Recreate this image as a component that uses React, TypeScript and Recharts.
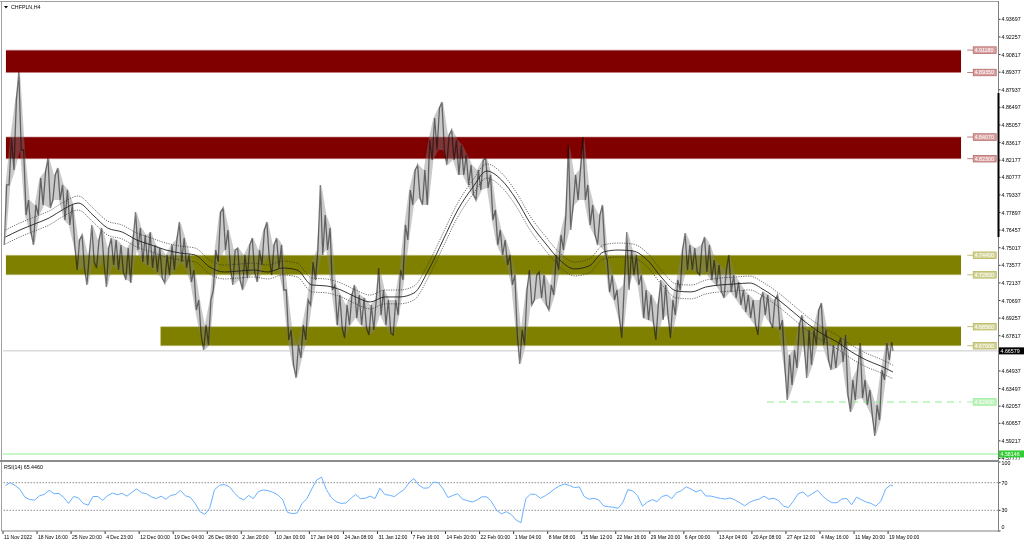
import React from 'react';
import { ComposedChart, Line, Area, XAxis, YAxis, ReferenceLine, ReferenceDot } from 'recharts';

// ---------- data ----------
const SYMBOL = 'CHFPLN,H4';
const RSI_TITLE = 'RSI(14) 65.4460';

// price samples: one high / low pair per step (6 H4 bars)
const STEP_HIGH = [
  4.8015, 4.8399, 4.8710, 4.8939, 4.8301, 4.7892, 4.7851, 4.8072, 4.8121, 4.8236,
  4.8097, 4.8154, 4.8015, 4.7974, 4.7851, 4.7565, 4.7606, 4.7442, 4.7688, 4.7565,
  4.7663, 4.7499, 4.7581, 4.7565, 4.7524, 4.7499, 4.7565, 4.7794, 4.7663, 4.7606,
  4.7630, 4.7524, 4.7499, 4.7442, 4.7524, 4.7565, 4.7712, 4.7581, 4.7442, 4.7319,
  4.7074, 4.6870, 4.7074, 4.7483, 4.7794, 4.7827, 4.7647, 4.7483, 4.7499, 4.7442,
  4.7524, 4.7581, 4.7483, 4.7647, 4.7712, 4.7524, 4.7581, 4.7524, 4.7156, 4.6829,
  4.6706, 4.6870, 4.7074, 4.7385, 4.7483, 4.8015, 4.7769, 4.7663, 4.7197, 4.7115,
  4.7033, 4.7115, 4.7197, 4.7115, 4.7090, 4.7033, 4.7074, 4.7336, 4.7156, 4.7074,
  4.7074, 4.7319, 4.7688, 4.7974, 4.8137, 4.8178, 4.8137, 4.8383, 4.8563, 4.8645,
  4.8694, 4.8424, 4.8465, 4.8383, 4.8342, 4.8260, 4.8178, 4.8137, 4.8219, 4.8236,
  4.8097, 4.7810, 4.7647, 4.7565, 4.7442, 4.7278, 4.6829, 4.7156, 4.7319, 4.7278,
  4.7303, 4.7278, 4.7197, 4.7442, 4.7606, 4.7769, 4.8342, 4.8097, 4.8137, 4.8407,
  4.8015, 4.7851, 4.7769, 4.7851, 4.7401, 4.7278, 4.7156, 4.7197, 4.7630, 4.7483,
  4.7442, 4.7278, 4.7156, 4.7115, 4.7033, 4.7238, 4.7197, 4.7074, 4.7238, 4.7483,
  4.7622, 4.7524, 4.7499, 4.7524, 4.7589, 4.7524, 4.7401, 4.7360, 4.7319, 4.7442,
  4.7278, 4.7221, 4.7156, 4.7115, 4.7074, 4.7074, 4.7140, 4.7115, 4.7074, 4.7115,
  4.6910, 4.6624, 4.6665, 4.6870, 4.6951, 4.6829, 4.6829, 4.6992, 4.7050, 4.6829,
  4.6706, 4.6706, 4.6763, 4.6788, 4.6420, 4.6501, 4.6722, 4.6420, 4.6338, 4.6215,
  4.6501, 4.6722, 4.6730,
];
const STEP_LOW = [
  4.7524, 4.8015, 4.8137, 4.8301, 4.7769, 4.7630, 4.7524, 4.7769, 4.7851, 4.7827,
  4.7892, 4.7892, 4.7728, 4.7688, 4.7524, 4.7319, 4.7336, 4.7197, 4.7385, 4.7336,
  4.7385, 4.7180, 4.7360, 4.7319, 4.7303, 4.7238, 4.7213, 4.7483, 4.7385, 4.7360,
  4.7336, 4.7303, 4.7254, 4.7213, 4.7278, 4.7319, 4.7385, 4.7336, 4.7221, 4.6992,
  4.6788, 4.6665, 4.6706, 4.7156, 4.7385, 4.7483, 4.7336, 4.7197, 4.7238, 4.7156,
  4.7254, 4.7303, 4.7221, 4.7360, 4.7418, 4.7278, 4.7336, 4.7156, 4.6747, 4.6542,
  4.6436, 4.6600, 4.6747, 4.7033, 4.7238, 4.7442, 4.7483, 4.7156, 4.6870, 4.6845,
  4.6763, 4.6870, 4.6927, 4.6870, 4.6845, 4.6788, 4.6829, 4.6951, 4.6870, 4.6804,
  4.6788, 4.6951, 4.7238, 4.7565, 4.7851, 4.7908, 4.7851, 4.7851, 4.8219, 4.8301,
  4.8301, 4.8178, 4.8219, 4.8097, 4.8097, 4.8015, 4.7933, 4.7892, 4.7974, 4.7990,
  4.7728, 4.7524, 4.7442, 4.7360, 4.7197, 4.6788, 4.6550, 4.6706, 4.7033, 4.7074,
  4.7090, 4.7033, 4.6992, 4.7115, 4.7319, 4.7483, 4.7647, 4.7851, 4.7892, 4.7892,
  4.7688, 4.7606, 4.7524, 4.7483, 4.7140, 4.7074, 4.6927, 4.6763, 4.7156, 4.7278,
  4.7197, 4.6927, 4.6910, 4.6894, 4.6747, 4.6910, 4.6951, 4.6763, 4.6951, 4.7156,
  4.7319, 4.7319, 4.7303, 4.7278, 4.7303, 4.7238, 4.7197, 4.7140, 4.7090, 4.7140,
  4.7090, 4.7033, 4.6976, 4.6927, 4.6870, 4.6788, 4.6951, 4.6894, 4.6845, 4.6829,
  4.6542, 4.6256, 4.6379, 4.6518, 4.6706, 4.6436, 4.6542, 4.6706, 4.6706, 4.6583,
  4.6501, 4.6518, 4.6567, 4.6297, 4.6158, 4.6256, 4.6272, 4.6215, 4.6133, 4.5962,
  4.6092, 4.6420, 4.6583,
];
const LAST_CLOSE = 4.66579;

// moving average sampled every 3 steps (last value = last bar)
const MA_EVERY = 3;
const MA_VALUES = [
  4.7589, 4.7647, 4.7696, 4.7745, 4.7818, 4.7867, 4.7769, 4.7663, 4.7630, 4.7565,
  4.7524, 4.7483, 4.7458, 4.7442, 4.7344, 4.7303, 4.7311, 4.7319, 4.7303, 4.7336,
  4.7319, 4.7197, 4.7189, 4.7156, 4.7099, 4.7058, 4.7099, 4.7099, 4.7131, 4.7319,
  4.7565, 4.7810, 4.7990, 4.8129, 4.8056, 4.7900, 4.7696, 4.7540, 4.7401, 4.7328,
  4.7352, 4.7467, 4.7483, 4.7475, 4.7401, 4.7254, 4.7148, 4.7140, 4.7180, 4.7197,
  4.7205, 4.7213, 4.7156, 4.7074, 4.6976, 4.6878, 4.6796, 4.6731, 4.6649, 4.6583,
  4.6534, 4.6485,
];
const ENVELOPE_DEVIATION = 0.0012;

// RSI(14), one value per step
const RSI_VALUES = [
  66, 70, 66, 60, 49, 45.5, 44.8, 51, 53, 59,
  54, 54.5, 48.5, 40, 50, 48, 40, 37.5, 50, 50,
  44.5, 51, 55, 52.5, 54.5, 50.5, 56, 61, 55.5, 54,
  49.5, 47, 50.5, 46, 51.5, 53, 59, 51, 49, 40,
  28, 24, 33, 60, 66, 67.5, 64.5, 56, 48.5, 45,
  51.5, 47, 57, 59.5, 58.5, 56, 52.5, 45.5, 27, 25.2,
  26, 40, 47, 61, 74, 78, 60, 48.5, 42.5, 40,
  40.5, 47, 53, 47, 47.5, 50.5, 47, 62, 53, 51.7,
  49.8, 55.5, 60, 70, 76, 66.5, 62, 62.5, 71, 70,
  61, 48.5, 51.5, 54, 46, 44, 42, 45, 49.5, 49.5,
  42, 30, 25, 28, 24, 16, 12, 47, 53.5, 53,
  47.5, 51, 56, 61.5, 65.7, 68, 66, 62.8, 64, 50,
  46, 47.5, 45, 36.3, 35.2, 34.4, 33, 42, 60, 58,
  51, 36, 42, 45.5, 42.5, 50, 52, 47, 55.5, 58.5,
  64, 60.8, 56.5, 59.5, 50.7, 50.7, 49, 47.3, 46.3, 48,
  45, 41, 36.5, 41.5, 44.5, 46.3, 50.5, 46, 47.5, 44,
  36, 34, 43, 54, 56.5, 50, 54.5, 59, 51, 45,
  41, 41, 46.5, 47, 38, 49, 45.5, 42, 40, 36,
  43, 61, 66.5, 65.446,
];
const RSI_LEVELS = [70, 30];
const RSI_TICKS = [0, 30, 70, 100];

// supply / demand zones (prices) and their start step
const ZONE_TOP = [4.9118, 4.8407, 4.7440, 4.6856];
const ZONE_BOTTOM = [4.8935, 4.8230, 4.7280, 4.6700];
const ZONE_START = [0.6, 0.6, 0.6, 32.4];
const ZONE_END = 197;
const SUPPORT_LEVEL = 4.6240;
const SUPPORT_START = 157.1;
const LOW_LEVEL = 4.58146;

// axis labels
const PRICE_TICK_LABELS = [
  '4.93697', '4.92257', '4.90817', '4.89377', '4.87937', '4.86497', '4.85057', '4.83617',
  '4.82177', '4.80777', '4.79337', '4.77897', '4.76457', '4.75017', '4.73577', '4.72137',
  '4.70697', '4.69257', '4.67817', '4.64937', '4.63497', '4.62057', '4.60657', '4.59217', '4.57777',
];
const TIME_LABELS = [
  '11 Nov 2022', '18 Nov 16:00', '25 Nov 20:00', '4 Dec 23:00', '12 Dec 00:00', '19 Dec 04:00',
  '26 Dec 08:00', '2 Jan 20:00', '10 Jan 00:00', '17 Jan 04:00', '24 Jan 08:00', '31 Jan 12:00',
  '7 Feb 16:00', '14 Feb 20:00', '22 Feb 00:00', '1 Mar 04:00', '8 Mar 08:00', '15 Mar 12:00',
  '22 Mar 16:00', '29 Mar 20:00', '6 Apr 00:00', '13 Apr 04:00', '20 Apr 08:00', '27 Apr 12:00',
  '4 May 16:00', '11 May 20:00', '19 May 00:00',
];
const TIME_LABEL_EVERY = 7;

// ---------- derived tables ----------
const X_MAX = 204.6;
const P_MIN = 4.57734;
const P_MAX = 4.95035;
const LAST_T = STEP_HIGH.length;
const LABEL_T = 199.5;

const priceData: { t: number; v: number }[] = [];
STEP_HIGH.forEach((h, i) => {
  const l = STEP_LOW[i];
  const nextMid = i + 1 < STEP_HIGH.length ? (STEP_HIGH[i + 1] + STEP_LOW[i + 1]) / 2 : LAST_CLOSE;
  const up = nextMid > (h + l) / 2;
  priceData.push({ t: i + 0.25, v: up ? l : h });
  priceData.push({ t: i + 0.75, v: up ? h : l });
});
priceData.push({ t: LAST_T, v: LAST_CLOSE });

const rangeData = STEP_HIGH.map((h, i) => ({ t: i + 0.5, v: [STEP_LOW[i], h] }));

const maData = MA_VALUES.map((v, k) => ({ t: Math.min(k * MA_EVERY + 0.5, LAST_T), v }));
const envUpper = maData.map((d) => ({ t: d.t, v: d.v * (1 + ENVELOPE_DEVIATION) }));
const envLower = maData.map((d) => ({ t: d.t, v: d.v * (1 - ENVELOPE_DEVIATION) }));
const rsiData = RSI_VALUES.map((v, i) => ({ t: Math.min(i + 0.5, LAST_T), v }));

const zoneData = ZONE_TOP.map((top, i) => [
  { t: ZONE_START[i], v: [ZONE_BOTTOM[i], top] },
  { t: ZONE_END, v: [ZONE_BOTTOM[i], top] },
]);
const ZONE_FILL = ['#800000', '#800000', '#808000', '#808000'];
const ZONE_EDGE = ['#c08080', '#c08080', '#c0c080', '#c0c080'];

const priceTicks = [...PRICE_TICK_LABELS.map(Number), LAST_CLOSE, LOW_LEVEL];
const timeTicks = TIME_LABELS.map((_, i) => i * TIME_LABEL_EVERY);

// ---------- rendering ----------
const FONT = '"Liberation Sans", Arial, sans-serif';
const FS = 5.3;
const FS_TIME = 5;

function PriceTick(props: any) {
  const { x, y, payload } = props;
  const v = payload.value as number;
  if (Math.abs(v - LAST_CLOSE) < 1e-9 || Math.abs(v - LOW_LEVEL) < 1e-9) {
    const black = Math.abs(v - LAST_CLOSE) < 1e-9;
    return (
      <g>
        <rect x={x + 1} y={y - 3.5} width={25} height={7} fill={black ? '#000000' : '#32cd32'} />
        <text x={x + 2.5} y={y + 2} fontSize={FS} fontFamily={FONT} fill="#ffffff">
          {v.toFixed(5)}
        </text>
      </g>
    );
  }
  const label = PRICE_TICK_LABELS.find((s) => Number(s) === v) || v.toFixed(5);
  return (
    <g>
      <line x1={x} x2={x + 2.5} y1={y} y2={y} stroke="#000" strokeWidth={0.8} />
      <text x={x + 3.5} y={y + 2} fontSize={FS} fontFamily={FONT} fill="#000">
        {label}
      </text>
    </g>
  );
}

function RsiTick(props: any) {
  const { x, y, payload } = props;
  const v = payload.value as number;
  const dy = v === 100 ? 3 : v === 0 ? -2 : 2;
  return (
    <g>
      <line x1={x} x2={x + 2.5} y1={y} y2={y} stroke="#000" strokeWidth={0.8} />
      <text x={x + 3.5} y={y + dy} fontSize={FS} fontFamily={FONT} fill="#000">
        {String(v)}
      </text>
    </g>
  );
}

function TimeTick(props: any) {
  const { x, y, index } = props;
  return (
    <g>
      <line x1={x} x2={x} y1={y} y2={y + 3} stroke="#000" strokeWidth={0.8} />
      <text x={x + 1} y={y + 8} fontSize={FS_TIME} fontFamily={FONT} fill="#000">
        {TIME_LABELS[index] ?? ''}
      </text>
    </g>
  );
}

function LevelBox(props: any) {
  const { cx, cy, text, stroke, fill } = props;
  if (cx == null || cy == null) return null;
  return (
    <g>
      <line x1={cx - 6} x2={cx} y1={cy} y2={cy} stroke={stroke} strokeWidth={0.8} />
      <rect x={cx} y={cy - 3.3} width={23} height={6.6} fill={fill} stroke={stroke} strokeWidth={0.7} />
      <text x={cx + 1.5} y={cy + 2} fontSize={FS} fontFamily={FONT} fill="#ffffff">
        {text}
      </text>
    </g>
  );
}

const levelBoxes: { p: number; stroke: string; fill: string }[] = [];
ZONE_TOP.forEach((top, i) => {
  const stroke = i < 2 ? '#b06060' : '#b0b050';
  const fill = i < 2 ? '#d8a0a0' : '#d4d49a';
  levelBoxes.push({ p: top, stroke, fill });
  levelBoxes.push({ p: ZONE_BOTTOM[i], stroke, fill });
});
levelBoxes.push({ p: SUPPORT_LEVEL, stroke: '#90ee90', fill: '#bdf2bd' });

export default function App() {
  return (
    <div style={{ position: 'fixed', left: 0, top: 0, width: 1024, height: 544, background: '#ffffff', overflow: 'hidden' }}>
      <style>{'.price-line path, .price-band path{mix-blend-mode:multiply}'}</style>
      <div style={{ position: 'absolute', left: 0, top: 0 }}>
        <ComposedChart width={1024} height={462} margin={{ top: 3, right: 0, bottom: 3, left: 3 }}>
          <XAxis type="number" dataKey="t" domain={[0, X_MAX]} hide allowDataOverflow />
          <YAxis
            orientation="right"
            width={26}
            type="number"
            domain={[P_MIN, P_MAX]}
            allowDataOverflow
            ticks={priceTicks}
            interval={0}
            tick={<PriceTick />}
            tickLine={false}
            axisLine={false}
            tickSize={0}
            tickMargin={0}
          />
          {zoneData.map((d, i) => (
            <Area
              key={'z' + i}
              data={d}
              dataKey="v"
              type="linear"
              fill={ZONE_FILL[i]}
              fillOpacity={1}
              stroke={ZONE_EDGE[i]}
              strokeWidth={0.6}
              dot={false}
              activeDot={false}
              isAnimationActive={false}
            />
          ))}
          <ReferenceLine y={LAST_CLOSE} stroke="#c8c8c8" strokeWidth={1} />
          <ReferenceLine y={LOW_LEVEL} stroke="#90ee90" strokeWidth={1} />
          <ReferenceLine
            segment={[{ x: SUPPORT_START, y: SUPPORT_LEVEL }, { x: ZONE_END, y: SUPPORT_LEVEL }]}
            stroke="#90ee90"
            strokeWidth={1}
            strokeDasharray="7 5"
          />
          <Area
            className="price-band"
            data={rangeData}
            dataKey="v"
            type="linear"
            fill="#808080"
            fillOpacity={0.42}
            stroke="none"
            dot={false}
            activeDot={false}
            isAnimationActive={false}
          />
          <Line
            className="price-line"
            data={priceData}
            dataKey="v"
            type="linear"
            stroke="#7c7c7c"
            strokeWidth={1.3}
            dot={false}
            activeDot={false}
            isAnimationActive={false}
          />
          <Line data={envUpper} dataKey="v" type="monotone" stroke="#303030" strokeWidth={0.7} strokeDasharray="1.2 1.2" dot={false} activeDot={false} isAnimationActive={false} />
          <Line data={envLower} dataKey="v" type="monotone" stroke="#303030" strokeWidth={0.7} strokeDasharray="1.2 1.2" dot={false} activeDot={false} isAnimationActive={false} />
          <Line data={maData} dataKey="v" type="monotone" stroke="#202020" strokeWidth={0.9} dot={false} activeDot={false} isAnimationActive={false} />
          {levelBoxes.map((b, i) => (
            <ReferenceDot
              key={'b' + i}
              x={LABEL_T}
              y={b.p}
              r={0}
              ifOverflow="visible"
              shape={(p: any) => <LevelBox cx={p.cx} cy={p.cy} text={b.p.toFixed(5)} stroke={b.stroke} fill={b.fill} />}
            />
          ))}
        </ComposedChart>
      </div>
      <div style={{ position: 'absolute', left: 0, top: 459 }}>
        <ComposedChart width={1024} height={85} margin={{ top: 3, right: 0, bottom: 0, left: 3 }}>
          <XAxis
            type="number"
            dataKey="t"
            domain={[0, X_MAX]}
            allowDataOverflow
            ticks={timeTicks}
            interval={0}
            height={13}
            tick={<TimeTick />}
            tickLine={false}
            axisLine={false}
            tickSize={0}
            tickMargin={0}
          />
          <YAxis
            orientation="right"
            width={26}
            type="number"
            domain={[0, 100]}
            ticks={RSI_TICKS}
            interval={0}
            tick={<RsiTick />}
            tickLine={false}
            axisLine={false}
            tickSize={0}
            tickMargin={0}
          />
          {RSI_LEVELS.map((lv) => (
            <ReferenceLine key={lv} y={lv} stroke="#707070" strokeWidth={0.8} strokeDasharray="1.5 1.5" />
          ))}
          <Line data={rsiData} dataKey="v" type="linear" stroke="#6ab0ff" strokeWidth={1} dot={false} activeDot={false} isAnimationActive={false} />
        </ComposedChart>
      </div>
      <svg width={1024} height={544} style={{ position: 'absolute', left: 0, top: 0, pointerEvents: 'none' }}>
        <line x1={1.5} x2={1.5} y1={1} y2={531} stroke="#a0a0a0" strokeWidth={1} />
        <line x1={0} x2={998.5} y1={1.5} y2={1.5} stroke="#a0a0a0" strokeWidth={1} />
        <line x1={998.5} x2={998.5} y1={1} y2={531} stroke="#808080" strokeWidth={1} />
        <line x1={998.5} x2={998.5} y1={93} y2={237} stroke="#000000" strokeWidth={2} />
        <line x1={0} x2={998.5} y1={461} y2={461} stroke="#8c8c8c" strokeWidth={2} />
        <line x1={1.5} x2={998.5} y1={531} y2={531} stroke="#808080" strokeWidth={1} />
        <path d="M4 6 L8 6 L6 8.5 Z" fill="#000" />
        <text x={11} y={9} fontSize={FS} fontFamily={FONT} fill="#000">{SYMBOL}</text>
        <text x={4} y={469} fontSize={FS} fontFamily={FONT} fill="#000">{RSI_TITLE}</text>
      </svg>
    </div>
  );
}
